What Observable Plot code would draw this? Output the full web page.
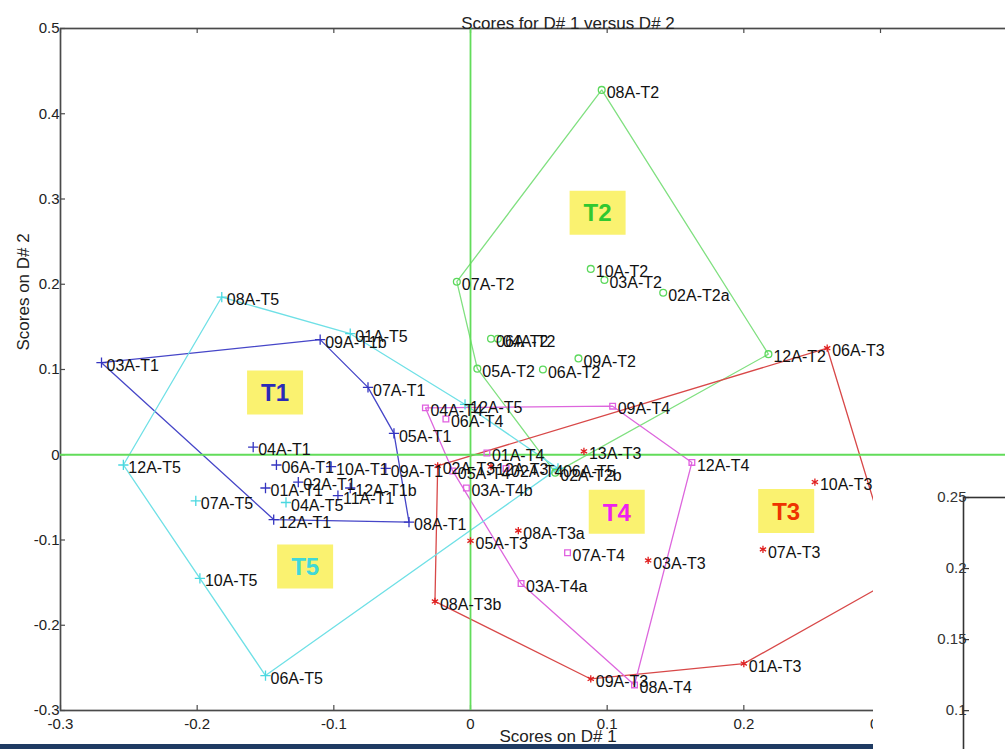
<!DOCTYPE html>
<html><head><meta charset="utf-8">
<script src="https://cdn.jsdelivr.net/npm/d3@7"></script>
<script src="https://cdn.jsdelivr.net/npm/@observablehq/plot@0.6"></script>
<style>
body{margin:0;background:#fff;}
#wrap{position:relative;width:1005px;height:749px;overflow:hidden;background:#fff;}
#main{position:absolute;left:0;top:0;width:1005px;height:749px;}
#cover{position:absolute;left:873px;top:457px;width:132px;height:292px;background:#fff;overflow:hidden;}
#strip{position:absolute;left:0;top:744px;width:873px;height:5px;background:#1f3b63;}
</style></head><body>
<div id="wrap"><div id="main"></div><div id="cover"></div><div id="strip"></div></div>
<script>
// ---- data ----
const groups = ["T1", "T2", "T3", "T4", "T5"];
const T1 = [
  ["03A-T1", -0.270, 0.108], ["09A-T1b", -0.110, 0.135], ["07A-T1", -0.075, 0.079],
  ["05A-T1", -0.056, 0.025], ["08A-T1", -0.045, -0.079], ["12A-T1", -0.144, -0.076],
  ["04A-T1", -0.159, 0.009], ["06A-T1", -0.142, -0.012], ["10A-T1", -0.102, -0.014],
  ["09A-T1", -0.062, -0.016], ["01A-T1", -0.150, -0.039], ["02A-T1", -0.126, -0.032],
  ["11A-T1", -0.097, -0.048], ["12A-T1b", -0.088, -0.039]
];
const T2 = [
  ["08A-T2", 0.096, 0.428], ["10A-T2", 0.088, 0.218], ["03A-T2", 0.098, 0.205],
  ["02A-T2a", 0.141, 0.190], ["07A-T2", -0.010, 0.203], ["06A-T2", 0.015, 0.136],
  ["04A-T2", 0.020, 0.136], ["05A-T2", 0.005, 0.101], ["06A-T2", 0.053, 0.100],
  ["09A-T2", 0.079, 0.113], ["12A-T2", 0.218, 0.118], ["02A-T2b", 0.062, -0.021]
];
const T3 = [
  ["06A-T3", 0.261, 0.125], ["10A-T3", 0.252, -0.032], ["07A-T3", 0.214, -0.111],
  ["01A-T3", 0.200, -0.245], ["03A-T3", 0.130, -0.124], ["09A-T3", 0.088, -0.263],
  ["08A-T3a", 0.035, -0.089], ["08A-T3b", -0.026, -0.172], ["05A-T3", 0.000, -0.101],
  ["13A-T3", 0.083, 0.004], ["12A-T3", 0.015, -0.014], ["02A-T3", -0.024, -0.013],
  ["04A-T3", 0.312, -0.144]
];
const T4 = [
  ["04A-T4", -0.033, 0.055], ["06A-T4", -0.018, 0.042], ["09A-T4", 0.104, 0.057],
  ["12A-T4", 0.162, -0.009], ["08A-T4", 0.120, -0.270], ["03A-T4a", 0.037, -0.151],
  ["07A-T4", 0.071, -0.115], ["01A-T4", 0.012, 0.002], ["05A-T4", -0.013, -0.019],
  ["03A-T4b", -0.003, -0.039], ["02A-T4", 0.026, -0.016]
];
const T5 = [
  ["08A-T5", -0.182, 0.185], ["01A-T5", -0.088, 0.142], ["12A-T5", -0.004, 0.059],
  ["12A-T5", -0.254, -0.012], ["10A-T5", -0.198, -0.145], ["06A-T5", -0.150, -0.259],
  ["07A-T5", -0.201, -0.054], ["04A-T5", -0.135, -0.056], ["06A-T5", 0.064, -0.016]
];
const groupLabelX = [-0.143, 0.093, 0.231, 0.107, -0.121];
const groupLabelY = [0.073, 0.284, -0.066, -0.067, -0.131];
const xTicks = [-0.3, -0.2, -0.1, 0, 0.1, 0.2, 0.3];
const yTicks = [-0.3, -0.2, -0.1, 0, 0.1, 0.2, 0.3, 0.4, 0.5];
const insetTicks = [0.1, 0.15, 0.2, 0.25];
const titleText = "Scores for D# 1 versus D# 2";
const xLabel = "Scores on D# 1";
const yLabel = "Scores on D# 2";

// ---- styles ----
const hullColor = {T1: "#4646c8", T2: "#80e080", T3: "#d84848", T4: "#dd66dd", T5: "#6fe0e6"};
const markColor = {T1: "#3535c0", T2: "#5cd85c", T3: "#e02020", T4: "#e060e0", T5: "#4ad8e0"};
const markSymbol = {T1: "plus", T2: "circle", T3: "asterisk", T4: "square", T5: "plus"};
const textColor = {T1: "#2a2ab8", T2: "#30c830", T3: "#ee3300", T4: "#ee22ee", T5: "#40d8d8"};
const axisGreen = "#62dc5a";
const font = "Liberation Sans, Arial, sans-serif";

const series = [T1, T2, T3, T4, T5];
const points = groups.flatMap((g, i) => series[i].map(([label, x, y]) => ({group: g, label, x, y})));
const groupLabels = groups.map((g, i) => ({group: g, x: groupLabelX[i], y: groupLabelY[i]}));

const boxSymbol = {draw(ctx) { ctx.rect(-28, -22, 56, 44); }};

const W = 1005, H = 749, mL = 60, mT = 28, mB = 39, mR = -80;
const plotW = W - mL - mR, plotH = H - mT - mB;

const marks = [
  Plot.frame({stroke: "#4a4a4a", strokeWidth: 1.7}),
  Plot.tickY(yTicks, {y: d => d, insetRight: plotW - 5, stroke: "#4a4a4a", strokeWidth: 1.2}),
  Plot.tickX(xTicks, {x: d => d, insetBottom: plotH - 5, stroke: "#4a4a4a", strokeWidth: 1.2}),
  Plot.tickX(xTicks, {x: d => d, insetTop: plotH - 5, stroke: "#4a4a4a", strokeWidth: 1.2}),
  Plot.dot(groupLabels, {x: "x", y: "y", symbol: boxSymbol, r: 1, fill: "#faf270", stroke: "none"})
];
groups.forEach(g => {
  marks.push(Plot.hull(points.filter(d => d.group === g), {x: "x", y: "y", stroke: hullColor[g], strokeWidth: 1.3}));
});
marks.push(
  Plot.ruleX([0], {stroke: axisGreen, strokeWidth: 1.8}),
  Plot.ruleY([0], {stroke: axisGreen, strokeWidth: 1.8})
);
groups.forEach(g => {
  marks.push(Plot.dot(points.filter(d => d.group === g), {
    x: "x", y: "y", symbol: markSymbol[g], r: markSymbol[g] === "square" ? 3.2 : 3.4,
    stroke: markColor[g], strokeWidth: 1.3, fill: "none"
  }));
});
marks.push(
  Plot.text(points, {x: "x", y: "y", text: "label", dx: 5, dy: 3, textAnchor: "start", fontSize: 16, fill: "#111"})
);
groups.forEach((g, i) => {
  marks.push(Plot.text([groupLabels[i]], {x: "x", y: "y", text: d => d.group, fill: textColor[g], fontSize: 24, fontWeight: "bold", dy: 1}));
});
marks.push(
  Plot.axisX(xTicks, {anchor: "bottom", tickSize: 0, tickPadding: 8, tickFormat: d => String(d), fontSize: 15, label: null, fill: "#222"}),
  Plot.axisY(yTicks, {anchor: "left", tickSize: 0, tickPadding: 1, tickFormat: d => String(d), fontSize: 15, label: null, fill: "#222"}),
  Plot.text([titleText], {frameAnchor: "top", dy: -12, dx: -5, fontSize: 17, fill: "#222"}),
  Plot.text([xLabel], {frameAnchor: "bottom", dy: 31, dx: -15, fontSize: 17, fill: "#222"}),
  Plot.text([yLabel], {frameAnchor: "left", dx: -37, dy: -19, rotate: -90, fontSize: 17, fill: "#222"})
);

const chart = Plot.plot({
  width: W, height: H,
  marginLeft: mL, marginTop: mT, marginBottom: mB, marginRight: mR,
  x: {domain: [-0.3, 0.45], axis: null},
  y: {domain: [-0.3, 0.5], axis: null},
  style: {fontFamily: font, fontSize: "15px", background: "white", overflow: "hidden"},
  marks
});
document.getElementById("main").appendChild(chart);

// inset axis of the neighbouring panel (cropped)
const iW = 132, iH = 292, iL = 90, iT = 40, iB = -20, iR = -300;
const inset = Plot.plot({
  width: iW, height: iH,
  marginLeft: iL, marginTop: iT, marginBottom: iB, marginRight: iR,
  x: {domain: [0, 1], axis: null},
  y: {domain: [0.0586, 0.25], axis: null},
  style: {fontFamily: font, fontSize: "15px", background: "white", overflow: "hidden"},
  marks: [
    Plot.frame({stroke: "#333", strokeWidth: 1.6}),
    Plot.tickY(insetTicks, {y: d => d, insetRight: (iW - iL - iR) - 6, stroke: "#333", strokeWidth: 1.2}),
    Plot.axisY(insetTicks, {anchor: "left", tickSize: 0, tickPadding: -3, tickFormat: d => String(d), fontSize: 15, label: null, fill: "#333"})
  ]
});
document.getElementById("cover").appendChild(inset);
</script>
</body></html>
